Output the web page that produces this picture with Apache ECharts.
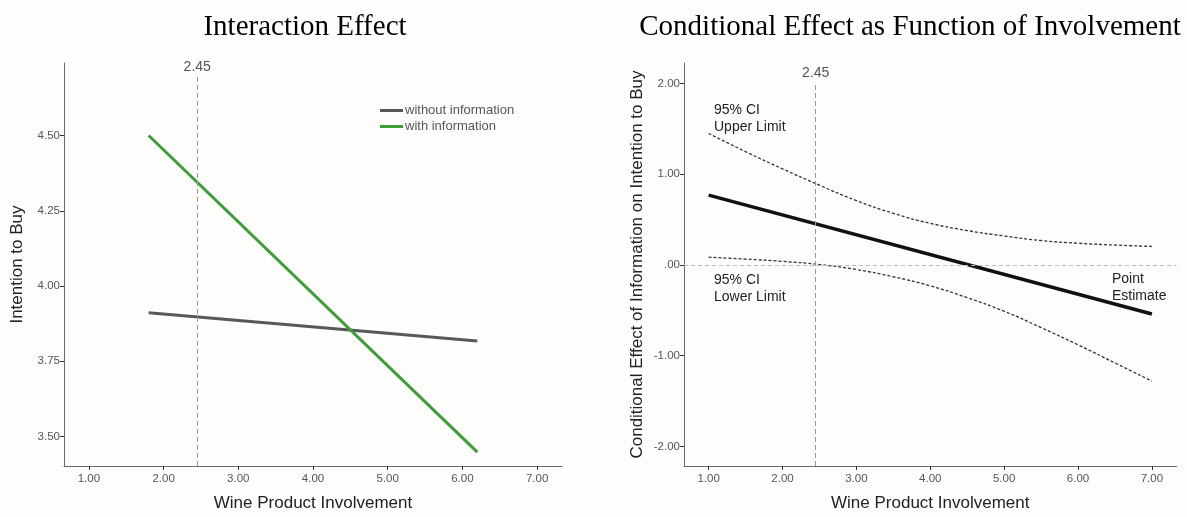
<!DOCTYPE html>
<html>
<head>
<meta charset="utf-8">
<script src="https://cdn.jsdelivr.net/npm/echarts@6/dist/echarts.min.js"></script>
<style>html,body{margin:0;padding:0;background:#fdfdfb;}#c{width:1187px;height:517px;}</style>
</head>
<body>
<div id="c"></div>
<script>
// ---- Left chart data ----
var xTicks = [1, 2, 3, 4, 5, 6, 7];
var leftYTicks = [3.5, 3.75, 4.0, 4.25, 4.5];
var rightYTicks = [-2, -1, 0, 1, 2];
var involvementEnds = [1.8, 6.2];
var withoutInfo = [3.911, 3.817];
var withInfo = [4.50, 3.448];
var refX = 2.45;

// ---- Right chart data ----
var involvement = [1, 1.5, 2, 2.5, 3, 3.5, 4, 4.5, 5, 5.5, 6, 6.5, 7];
var ciUpper = [1.45, 1.25, 1.06, 0.88, 0.71, 0.57, 0.46, 0.38, 0.32, 0.27, 0.24, 0.22, 0.205];
var ciLower = [0.086, 0.065, 0.04, 0.005, -0.05, -0.13, -0.23, -0.36, -0.51, -0.69, -0.88, -1.08, -1.28];
var estimateX = [1, 7];
var pointEstimate = [0.77, -0.54];

function pairs(xs, ys) { return xs.map(function (x, i) { return [x, ys[i]]; }); }
function fmt(v) { var s = Number(v).toFixed(2); if (s === '0.00') return '.00'; return s; }

var sans = 'Liberation Sans, Arial, sans-serif';
var axisLineStyle = { color: '#6a6a6a', width: 1 };
function xAxisCfg(gi) {
  return {
    type: 'value', gridIndex: gi, min: 0.6667, max: 7.3333,
    name: 'Wine Product Involvement', nameLocation: 'middle', nameGap: 29,
    nameTextStyle: { fontFamily: sans, fontSize: 17, color: '#222' },
    axisLine: { show: true, onZero: false, lineStyle: axisLineStyle },
    axisTick: { show: true, length: 4, lineStyle: { color: '#333' }, customValues: xTicks },
    axisLabel: { fontFamily: sans, fontSize: 11.5, color: '#555', margin: 7, customValues: xTicks, formatter: fmt },
    splitLine: { show: false }
  };
}
function yAxisCfg(gi, min, max, ticks, name) {
  return {
    type: 'value', gridIndex: gi, min: min, max: max,
    name: name, nameLocation: 'middle', nameGap: 38,
    nameTextStyle: { fontFamily: sans, fontSize: 17, color: '#222' },
    axisLine: { show: true, onZero: false, lineStyle: axisLineStyle },
    axisTick: { show: true, length: 4, lineStyle: { color: '#333' }, customValues: ticks },
    axisLabel: { fontFamily: sans, fontSize: 11.5, color: '#555', margin: 4, customValues: ticks, formatter: fmt },
    splitLine: { show: false }
  };
}
function refLine(gi, yLow, yTop) {
  return {
    type: 'line', xAxisIndex: gi, yAxisIndex: gi, data: [], silent: true,
    markLine: {
      symbol: ['none', 'none'], silent: true,
      lineStyle: { color: '#999', type: [5, 3], width: 1 },
      label: { show: true, position: 'end', formatter: '2.45', fontFamily: sans, fontSize: 14, color: '#555', distance: 3 },
      data: [[{ coord: [refX, yLow] }, { coord: [refX, yTop] }]]
    }
  };
}

var option = {
  backgroundColor: '#fdfdfb',
  animation: false,
  title: [
    { text: 'Interaction Effect', left: 300, top: 8, textAlign: 'center',
      textStyle: { fontFamily: 'Liberation Serif, Times New Roman, serif', fontSize: 29, fontWeight: 'normal', color: '#000' } },
    { text: 'Conditional Effect as Function of Involvement', left: 905, top: 8, textAlign: 'center',
      textStyle: { fontFamily: 'Liberation Serif, Times New Roman, serif', fontSize: 29, fontWeight: 'normal', color: '#000' } }
  ],
  legend: {
    left: 375, top: 99, orient: 'vertical', itemGap: 3, itemWidth: 23, itemHeight: 3, icon: 'rect',
    textStyle: { fontFamily: sans, fontSize: 13, color: '#555', padding: [0, 0, 0, -3] },
    data: ['without information', 'with information']
  },
  grid: [
    { left: 64, top: 63, width: 498, height: 411 },
    { left: 684, top: 63, width: 492.5, height: 411 }
  ],
  xAxis: [xAxisCfg(0), xAxisCfg(1)],
  yAxis: [
    yAxisCfg(0, 3.402, 4.741, leftYTicks, 'Intention to Buy'),
    yAxisCfg(1, -2.216, 2.227, rightYTicks, 'Conditional Effect of Information on Intention to Buy')
  ],
  graphic: [
    { type: 'text', left: 714, top: 102, style: { text: '95% CI\nUpper Limit', fontFamily: sans, fontSize: 14, lineHeight: 17, fill: '#222' } },
    { type: 'text', left: 714, top: 272, style: { text: '95% CI\nLower Limit', fontFamily: sans, fontSize: 14, lineHeight: 17, fill: '#222' } },
    { type: 'text', left: 1112, top: 271, style: { text: 'Point\nEstimate', fontFamily: sans, fontSize: 14, lineHeight: 17, fill: '#222' } }
  ],
  series: [
    refLine(0, 3.402, 4.695),
    refLine(1, -2.216, 2.01),
    { name: 'without information', type: 'line', xAxisIndex: 0, yAxisIndex: 0, symbol: 'none',
      data: pairs(involvementEnds, withoutInfo), lineStyle: { color: '#585858', width: 3 }, itemStyle: { color: '#585858' } },
    { name: 'with information', type: 'line', xAxisIndex: 0, yAxisIndex: 0, symbol: 'none',
      data: pairs(involvementEnds, withInfo), lineStyle: { color: '#3c9e37', width: 3 }, itemStyle: { color: '#3c9e37' } },
    { name: 'zero', type: 'line', xAxisIndex: 1, yAxisIndex: 1, data: [], silent: true,
      markLine: { symbol: ['none', 'none'], silent: true, label: { show: false },
        lineStyle: { color: '#c9b8b8', type: [4, 3], width: 1 }, data: [{ yAxis: 0 }] } },
    { name: 'upper', type: 'line', xAxisIndex: 1, yAxisIndex: 1, symbol: 'none', smooth: true,
      data: pairs(involvement, ciUpper), lineStyle: { color: '#333', width: 1.3, type: [3, 2] } },
    { name: 'lower', type: 'line', xAxisIndex: 1, yAxisIndex: 1, symbol: 'none', smooth: true,
      data: pairs(involvement, ciLower), lineStyle: { color: '#333', width: 1.3, type: [3, 2] } },
    { name: 'estimate', type: 'line', xAxisIndex: 1, yAxisIndex: 1, symbol: 'none',
      data: pairs(estimateX, pointEstimate), lineStyle: { color: '#111', width: 3.5 } }
  ]
};
var chart = echarts.init(document.getElementById('c'), null, { renderer: 'canvas' });
chart.setOption(option);
</script>
</body>
</html>
